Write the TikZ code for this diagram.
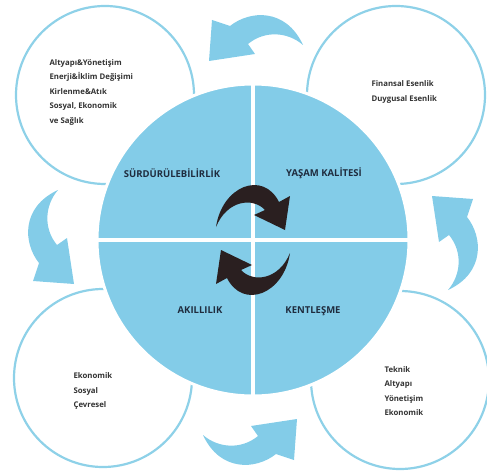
\documentclass[tikz,border=0pt]{standalone}
\usepackage{fontspec}
\setmainfont{Open Sans}

\definecolor{skyfill}{HTML}{83CCE8}
\definecolor{skyline}{HTML}{8ED1E8}
\definecolor{darkarr}{HTML}{2A1F20}
\definecolor{quadtext}{HTML}{1F2C3E}

\tikzset{
  ring/.style={draw=skyline, line width=2.2pt, fill=white},
  quad/.style={font=\fontsize{9.5}{11}\selectfont\bfseries, text=quadtext},
  info/.style={font=\fontsize{7.8}{14.5}\selectfont\bfseries, align=left, anchor=west, text=black!80},
}

% arrow outlines, relative to the middle of the big disc
\newcommand{\swoosh}{(50,195) .. controls (33,232) and (-3,230) .. (-23,214) -- (-41,220) -- (-44,179) -- (2,186) -- (-5,196) .. controls (12,210) and (35,208) .. (50,195) -- cycle}
\newcommand{\turnarrow}{(-37,13) .. controls (-31,54) and (10,70) .. (26,38) -- (37,44) -- (32,10) -- (1,25) -- (12,30) .. controls (0,43) and (-26,40) .. (-37,13) -- cycle}

\begin{document}
\begin{tikzpicture}[x=1pt, y=1pt]
\useasboundingbox (0,0) rectangle (487,472);

%%   kw   (name)   (x, y)
\coordinate (c) at (253,232);
\coordinate (tl) at (105,377);
\coordinate (tr) at (396,377);
\coordinate (bl) at (103,94);
\coordinate (br) at (400,92);

    \path[ring] (tl) circle (89);
    \path[ring] (tr) circle (89);
    \path[ring] (bl) circle (89);
    \path[ring] (br) circle (89);

% outer arrows
\foreach \ang in {0,90,180,270}
  \fill[skyfill, shift={(c)}, rotate=\ang] \swoosh;

% big disc and its quarters
    \fill[skyfill, draw=white, line width=3pt] (c) circle (156);
    \draw[white, line width=4.5pt] (c) ++(0,-157) -- ++(0,314);
    \draw[white, line width=4.5pt] (c) ++(-157,0) -- ++(314,0);

% middle arrows
\fill[darkarr, shift={(c)}] \turnarrow;
\fill[darkarr, shift={(c)}, rotate=180] \turnarrow;

%%   kw   (name)   (x, y)   {text}
    \node[quad] (sur) at (172,299) {SÜRDÜRÜLEBİLİRLİK};
    \node[quad] (yas) at (324,299) {YAŞAM KALİTESİ};
    \node[quad] (akl) at (200,162) {AKILLILIK};
    \node[quad] (ken) at (313,161) {KENTLEŞME};

    \node[info] (tltx) at (46,380) {Altyapı\&Yönetişim\\Enerji\&İklim Değişimi\\Kirlenme\&Atık\\Sosyal, Ekonomik\\ve Sağlık};
    \node[info] (trtx) at (368,380) {Finansal Esenlik\\Duygusal Esenlik};
    \node[info] (bltx) at (70,81) {Ekonomik\\Sosyal\\Çevresel};
    \node[info] (brtx) at (381,81) {Teknik\\Altyapı\\Yönetişim\\Ekonomik};
\end{tikzpicture}
\end{document}
